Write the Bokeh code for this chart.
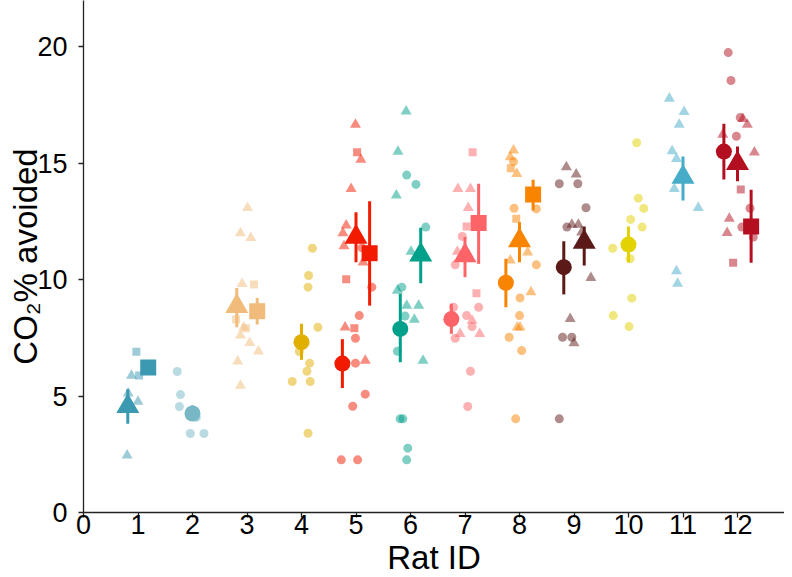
from bokeh.plotting import figure
from bokeh.models import ColumnDataSource, FixedTicker, Range1d
from bokeh.embed import file_html
from bokeh.resources import INLINE

# ---------------- data ----------------
rat_ids = [1, 2, 3, 4, 5, 6, 7, 8, 9, 10, 11, 12]
rat_colors = ["#3B9AB2", "#78B7C5", "#F1BB7B", "#E1AF00", "#F21A00", "#00A08A",
              "#FD6467", "#F98400", "#5B1A18", "#E2D200", "#46ACC8", "#B40F20"]

x_ticks = [0, 1, 2, 3, 4, 5, 6, 7, 8, 9, 10, 11, 12]
y_ticks = [0, 5, 10, 15, 20]

# raw (jittered) observations: circles
circle_rat = [2]*6 + [4]*10 + [5]*9 + [6]*10 + [7]*9 + [8]*9 + [9]*7 + [10]*10 + [12]*7
circle_x = [1.72, 1.78, 1.76, 2.07, 1.96, 2.21,
            4.20, 4.13, 4.12, 4.30, 3.96, 4.15, 4.10, 3.83, 4.16, 4.12,
            5.11, 5.29, 5.06, 4.99, 4.99, 5.17, 4.94, 4.73, 5.03,
            5.93, 6.10, 6.28, 5.84, 5.90, 5.76, 5.81, 5.86, 5.95, 5.93,
            6.95, 6.82, 6.79, 7.25, 7.03, 7.13, 6.82, 7.10, 7.05,
            7.89, 7.90, 8.31, 8.31, 8.01, 8.00, 7.81, 8.04, 7.93,
            8.73, 9.07, 9.22, 8.87, 8.79, 8.96, 8.73,
            10.15, 10.18, 10.28, 10.04, 10.25, 9.71, 10.03, 10.06, 9.72, 10.01,
            11.83, 11.88, 12.05, 11.98, 12.23, 12.08, 12.29]
circle_y = [6.05, 5.06, 4.55, 4.08, 3.39, 3.39,
            11.34, 10.17, 9.67, 7.95, 6.91, 6.41, 6.06, 5.62, 5.62, 3.40,
            11.36, 9.67, 8.45, 7.48, 6.41, 5.08, 4.56, 2.26, 2.26,
            14.48, 14.08, 12.25, 9.67, 8.43, 6.92, 4.02, 4.02, 2.76, 2.26,
            11.85, 10.63, 8.81, 8.81, 8.45, 7.98, 7.48, 6.06, 4.55,
            15.06, 13.06, 13.03, 10.63, 9.21, 8.45, 7.52, 6.95, 4.02,
            14.11, 14.11, 13.08, 12.25, 7.52, 7.52, 4.02,
            15.87, 13.49, 13.05, 12.58, 12.25, 11.34, 10.89, 9.20, 8.45, 7.98,
            19.74, 18.54, 16.95, 16.15, 13.06, 12.25, 11.82]

# raw observations: triangles
triangle_rat = [1]*4 + [3]*10 + [5]*9 + [6]*9 + [7]*7 + [8]*8 + [9]*8 + [11]*9 + [12]*6
triangle_x = [0.88, 0.82, 1.00, 0.80,
              3.01, 2.88, 3.07, 2.91, 2.94, 2.88, 3.05, 3.21, 2.83, 2.88,
              4.99, 5.09, 4.91, 4.82, 4.76, 4.78, 5.13, 4.80, 5.17,
              5.92, 5.77, 5.74, 6.01, 5.76, 5.93, 6.15, 6.07, 6.23,
              6.87, 7.10, 7.06, 6.86, 7.13, 6.91, 7.27,
              7.89, 7.83, 7.95, 8.15, 7.83, 8.21, 7.96, 8.01,
              8.86, 9.04, 8.96, 9.08, 9.14, 9.31, 8.93, 9.00,
              10.75, 11.02, 10.93, 10.80, 10.88, 10.84, 11.28, 10.88, 10.90,
              12.10, 12.18, 11.73, 12.31, 11.85, 11.81]
triangle_y = [5.88, 5.11, 4.76, 2.45,
              13.08, 11.99, 11.79, 9.81, 7.95, 7.60, 7.28, 6.92, 6.49, 5.45,
              16.65, 15.15, 13.89, 12.32, 11.99, 11.43, 10.74, 7.95, 6.52,
              17.22, 15.49, 13.61, 11.20, 9.53, 8.88, 8.88, 8.28, 6.52,
              13.89, 13.89, 13.08, 11.20, 8.24, 7.67, 7.67,
              15.54, 15.25, 14.54, 11.17, 10.82, 9.46, 7.95, 7.95,
              14.82, 14.51, 12.36, 12.36, 12.03, 10.07, 8.31, 7.27,
              17.77, 17.20, 16.65, 15.51, 15.18, 13.89, 13.08, 10.36, 9.82,
              16.90, 16.65, 16.22, 15.46, 12.61, 12.00]

# raw observations: squares
square_rat = [1]*2 + [3]*3 + [5]*3 + [7]*3 + [8]*2 + [12]*2
square_x = [0.97, 1.02, 3.13, 2.80, 2.98, 5.02, 4.82, 4.97,
            7.14, 7.03, 7.21, 7.84, 7.94, 12.06, 11.92]
square_y = [6.90, 5.88, 9.79, 8.28, 7.91, 15.46, 10.01, 7.91,
            15.46, 12.27, 9.41, 14.78, 12.61, 13.86, 10.72]

# group means with error bars (mean +/- SE)
mean_rat = [1, 1, 2, 3, 3, 4, 5, 5, 5, 6, 6, 7, 7, 7, 8, 8, 8, 9, 9, 10, 11, 12, 12, 12]
mean_shape = ["triangle", "square", "circle", "triangle", "square", "circle",
              "circle", "triangle", "square", "circle", "triangle",
              "circle", "triangle", "square", "circle", "triangle", "square",
              "circle", "triangle", "circle", "triangle",
              "circle", "triangle", "square"]
mean_y = [4.55, 6.22, 4.25, 8.85, 8.64, 7.31, 6.39, 11.82, 11.13, 7.88, 11.06,
          8.30, 11.03, 12.42, 9.86, 11.67, 13.65, 10.53, 11.60, 11.50, 14.39,
          15.49, 14.98, 12.27]
mean_lo = [3.81, 5.97, 3.95, 7.95, 8.07, 6.55, 5.34, 10.74, 8.88, 6.45, 9.84,
           7.67, 10.10, 10.67, 8.81, 10.74, 12.96, 9.36, 10.60, 10.74, 13.39,
           14.29, 14.22, 10.72]
mean_hi = [5.29, 6.47, 4.60, 9.63, 9.21, 8.10, 7.44, 12.89, 13.36, 9.39, 12.22,
           8.96, 11.82, 14.11, 10.89, 12.46, 14.28, 11.64, 12.27, 12.27, 15.28,
           16.68, 15.71, 13.85]

# ---------------- derived ----------------
color_of = dict(zip(rat_ids, rat_colors))
dodge_width = 0.75
mean_x = []
for r, s in zip(mean_rat, mean_shape):
    groups = [sh for rr, sh in zip(mean_rat, mean_shape) if rr == r]
    k = len(groups)
    i = groups.index(s)
    mean_x.append(r + (i - (k - 1) / 2) * dodge_width / k)

W, H = 784, 585
BL, BB = 83, 73
PX_PER_X, PX_PER_Y = 54.5, 23.3
x_end = (W - BL) / PX_PER_X
y_end = (H - BB) / PX_PER_Y

p = figure(width=W, height=H, output_backend="svg", toolbar_location=None,
           x_range=Range1d(0, x_end), y_range=Range1d(0, y_end),
           min_border_left=BL, min_border_right=0, min_border_top=0,
           min_border_bottom=BB)
p.outline_line_color = None
p.xgrid.visible = False
p.ygrid.visible = False
p.background_fill_color = "white"

FONT = "Liberation Sans"

for shape, xs, ys, rats, size in [("circle", circle_x, circle_y, circle_rat, 9),
                                  ("triangle", triangle_x, triangle_y, triangle_rat, 11),
                                  ("square", square_x, square_y, square_rat, 8)]:
    src = ColumnDataSource(dict(x=xs, y=ys, c=[color_of[r] for r in rats]))
    p.scatter("x", "y", source=src, marker=shape, size=size, fill_color="c",
              fill_alpha=0.5, line_color=None)

msrc = ColumnDataSource(dict(x=mean_x, y=mean_y, lo=mean_lo, hi=mean_hi,
                             c=[color_of[r] for r in mean_rat], m=mean_shape,
                             s=[{"circle": 16, "triangle": 23, "square": 16}[m] for m in mean_shape]))
p.segment(x0="x", y0="lo", x1="x", y1="hi", source=msrc, line_color="c", line_width=3)
p.scatter("x", "y", source=msrc, marker="m", size="s", fill_color="c", line_color=None)

p.xaxis.ticker = FixedTicker(ticks=x_ticks)
p.yaxis.ticker = FixedTicker(ticks=y_ticks)
p.xaxis.axis_label = "Rat ID"
p.yaxis.axis_label = "CO\u2082% avoided"
for ax in (p.xaxis, p.yaxis):
    ax.axis_line_color = "#222222"
    ax.axis_line_width = 1.3
    ax.major_tick_line_color = "#222222"
    ax.major_tick_line_width = 1.3
    ax.major_tick_out = 5
    ax.major_tick_in = 0
    ax.minor_tick_line_color = None
    ax.major_label_text_font = FONT
    ax.major_label_text_font_size = "27px"
    ax.major_label_text_color = "black"
    ax.axis_label_text_font = FONT
    ax.axis_label_text_font_size = "33px"
    ax.axis_label_text_font_style = "normal"
    ax.axis_label_text_color = "black"
p.xaxis.major_label_standoff = -3
p.xaxis.axis_label_standoff = 2
p.yaxis.major_label_standoff = 11
p.yaxis.axis_label_standoff = -10

open("out.html", "w").write(file_html(p, INLINE))
